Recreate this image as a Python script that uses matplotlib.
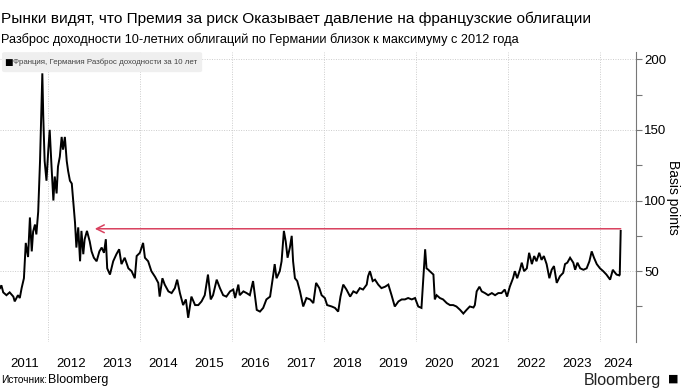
import matplotlib.pyplot as plt
from matplotlib.patches import FancyBboxPatch

plt.rcParams['font.family'] = ['Liberation Sans', 'DejaVu Sans']

# France - Germany 10y spread, bp (decimal years)
years = [2010.96, 2010.99, 2011.03, 2011.10, 2011.17, 2011.25, 2011.28, 2011.35, 2011.39, 2011.43,
         2011.48, 2011.52, 2011.57, 2011.61, 2011.65, 2011.68, 2011.72, 2011.75, 2011.79, 2011.83,
         2011.88, 2011.90, 2011.93, 2011.97, 2012.01, 2012.04, 2012.08, 2012.12, 2012.15, 2012.19,
         2012.22, 2012.26, 2012.30, 2012.33, 2012.37, 2012.41, 2012.44, 2012.48, 2012.52, 2012.55,
         2012.59, 2012.62, 2012.66, 2012.70, 2012.73, 2012.77, 2012.80, 2012.85, 2012.91, 2012.95,
         2013.00, 2013.06, 2013.12, 2013.17, 2013.22, 2013.26, 2013.29, 2013.35, 2013.42, 2013.49,
         2013.55, 2013.60, 2013.67, 2013.75, 2013.82, 2013.89, 2013.93, 2014.00, 2014.07, 2014.11,
         2014.18, 2014.25, 2014.33, 2014.40, 2014.43, 2014.49, 2014.54, 2014.62, 2014.69, 2014.76,
         2014.81, 2014.87, 2014.94, 2015.00, 2015.05, 2015.12, 2015.20, 2015.27, 2015.34, 2015.41,
         2015.48, 2015.54, 2015.59, 2015.67, 2015.74, 2015.81, 2015.88, 2015.96, 2016.03, 2016.07,
         2016.14, 2016.17, 2016.25, 2016.32, 2016.39, 2016.46, 2016.50, 2016.54, 2016.61, 2016.68,
         2016.75, 2016.83, 2016.90, 2016.93, 2016.97, 2017.04, 2017.08, 2017.13, 2017.17, 2017.21,
         2017.26, 2017.30, 2017.33, 2017.37, 2017.42, 2017.48, 2017.55, 2017.62, 2017.70, 2017.77,
         2017.83, 2017.90, 2017.95, 2018.02, 2018.07, 2018.17, 2018.24, 2018.31, 2018.36, 2018.42,
         2018.49, 2018.57, 2018.64, 2018.71, 2018.78, 2018.85, 2018.93, 2018.96, 2019.00, 2019.06,
         2019.11, 2019.18, 2019.25, 2019.33, 2019.40, 2019.47, 2019.54, 2019.62, 2019.69, 2019.76,
         2019.83, 2019.91, 2019.98, 2020.05, 2020.12, 2020.20, 2020.23, 2020.27, 2020.30, 2020.38,
         2020.41, 2020.45, 2020.52, 2020.59, 2020.67, 2020.74, 2020.81, 2020.88, 2020.96, 2021.03,
         2021.10, 2021.17, 2021.25, 2021.28, 2021.32, 2021.38, 2021.43, 2021.50, 2021.57, 2021.65,
         2021.72, 2021.79, 2021.86, 2021.93, 2021.98, 2022.04, 2022.11, 2022.15, 2022.20, 2022.26,
         2022.30, 2022.35, 2022.41, 2022.46, 2022.52, 2022.57, 2022.62, 2022.68, 2022.73, 2022.78,
         2022.84, 2022.90, 2022.95, 2023.00, 2023.06, 2023.13, 2023.20, 2023.24, 2023.29, 2023.35,
         2023.42, 2023.46, 2023.51, 2023.57, 2023.64, 2023.71, 2023.77, 2023.82, 2023.87, 2023.93,
         2024.00, 2024.07, 2024.14, 2024.22, 2024.28, 2024.30, 2024.36, 2024.42, 2024.43, 2024.45]
spread = [38, 40, 35, 33, 35, 32, 28.6, 33, 31, 38,
          45, 70, 60, 88, 64, 78, 83, 76, 92, 128,
          190, 160, 128, 114, 136, 150, 124, 100, 117, 105,
          124, 131, 145, 136, 145, 128, 121, 114, 112, 100,
          84.5, 66.7, 81, 57, 78.5, 62, 72.6, 78.5, 71, 64,
          59.5, 57, 64, 66.7, 63, 72.6, 52, 47.6, 57, 62,
          65.5, 55, 59.5, 52, 50, 45, 60.7, 63, 70, 59.5,
          57, 50, 46, 41.7, 32, 45, 40.5, 35.7, 34.5, 38,
          44, 34.5, 26, 30, 17, 32, 26, 26, 28.6, 33,
          47.6, 30, 33, 44, 38, 33, 32, 35.7, 37, 31,
          40.5, 33, 35.7, 34.5, 33, 43, 33, 22.6, 21.4, 24,
          30, 32, 47.6, 55, 45, 50, 57, 78.5, 71, 59.5,
          66.7, 75, 57, 45, 43, 35.7, 25, 31, 30, 27.4,
          41.7, 38, 33, 31, 26, 25, 24, 21.4, 32, 40.5,
          37, 32, 35.7, 34.5, 38, 37, 40.5, 46.4, 50, 43,
          44, 40.5, 38, 39, 40.5, 33, 25, 28.6, 30, 30,
          31, 30, 31, 25, 24, 65.5, 52, 51, 50, 47.6,
          30, 33, 31, 30, 27.4, 26, 26, 25, 22.6, 20,
          22.6, 25, 24.3, 26, 35.7, 39, 35.7, 34.5, 33, 34.5,
          33, 34.5, 34.5, 37, 32, 39, 45, 50, 45, 51,
          56, 50, 52, 63, 55, 60.7, 57, 63, 58, 60.7,
          55, 45, 51, 53.6, 41.7, 46.4, 48.8, 55, 56, 59.5,
          56, 51, 56, 52, 51, 52, 57, 64, 59.5, 55,
          52, 50, 47.6, 44, 51, 50, 47.6, 47, 47.6, 78.5]

arrow_level = 80
arrow_from = 2024.45
arrow_to = 2013.02
year_labels = list(range(2011, 2025))

x_min, x_max = 2010.96, 2024.78

fig = plt.figure(figsize=(6.83, 3.92), dpi=100)
ax = fig.add_axes([0.0, 0.128, 0.931, 0.739])

ax.plot(years, spread, color='black', lw=1.4, solid_joinstyle='miter')

ax.annotate('', xy=(arrow_to, arrow_level), xytext=(arrow_from, arrow_level),
            arrowprops=dict(arrowstyle='->', color='#d9415f', lw=1.1,
                            mutation_scale=14, shrinkA=0, shrinkB=0))

ax.set_xlim(x_min, x_max)
ax.set_ylim(0, 205)

ax.yaxis.tick_right()
ax.yaxis.set_label_position('right')
ax.set_yticks([50, 100, 150, 200])
ax.set_yticks([25, 75, 125, 175], minor=True)
ax.tick_params(axis='y', which='both', colors='#777777', labelcolor='black',
               labelsize=9.5, length=4, width=0.8, pad=2)
ax.set_ylabel('Basis points', rotation=270, fontsize=10, labelpad=10)

# gridlines every two years, labels centred on the visible part of each year
ax.set_xticks([2012, 2014, 2016, 2018, 2020, 2022, 2024])
ax.tick_params(axis='x', length=0, labelbottom=False)
for y in year_labels:
    mid = (max(y, x_min) + min(y + 1, x_max)) / 2
    ax.text(mid, -0.055, str(y), transform=ax.get_xaxis_transform(),
            ha='center', va='top', fontsize=9.5)

ax.grid(True, which='major', color='#cccccc', linestyle=(0, (1, 1.5)), lw=0.7)
for s in ['left', 'top', 'bottom']:
    ax.spines[s].set_visible(False)
ax.spines['right'].set_color('#777777')
ax.set_facecolor('none')

fig.text(0.002, 0.953, 'Рынки видят, что Премия за риск Оказывает давление на французские облигации',
         fontsize=11.1, va='center', ha='left')
fig.text(0.002, 0.899, 'Разброс доходности 10-летних облигаций по Германии близок к максимуму с 2012 года',
         fontsize=9.2, va='center', ha='left')

legend_bg = FancyBboxPatch((0.003, 0.816), 0.293, 0.051, boxstyle='round,pad=0,rounding_size=0.004',
                           transform=fig.transFigure, facecolor='#efefef', edgecolor='none')
fig.patches.append(legend_bg)
fig.text(0.006, 0.841, '■', fontsize=6.5, va='center', ha='left', family='DejaVu Sans')
fig.text(0.019, 0.841, 'Франция, Германия Разброс доходности за 10 лет',
         fontsize=5.7, va='center', ha='left', color='#444444')

fig.text(0.002, 0.03, 'Источник:', fontsize=7.3, va='center', ha='left')
fig.text(0.071, 0.03, 'Bloomberg', fontsize=9, va='center', ha='left')
fig.text(0.968, 0.03, 'Bloomberg', fontsize=11.5, va='center', ha='right', color='#222222')
fig.text(0.985, 0.033, '■', fontsize=8, va='center', ha='center', family='DejaVu Sans')

fig.savefig('out.png', dpi=100)
